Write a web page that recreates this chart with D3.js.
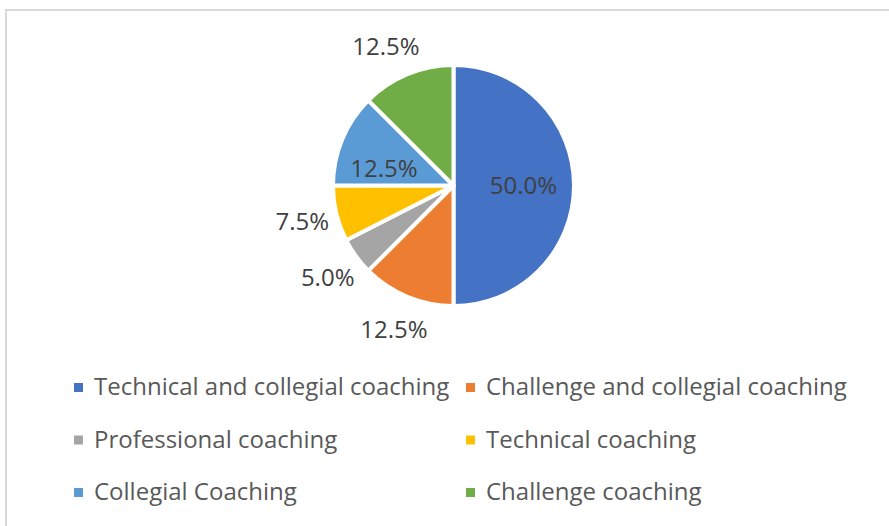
<!DOCTYPE html>
<html>
<head>
<meta charset="utf-8">
<script src="https://cdn.jsdelivr.net/npm/d3@7"></script>
<style>
    body { margin: 0; background: #fff; }
    svg { display: block; font-family: "Open Sans", sans-serif; }
</style>
</head>
<body>
<div id="chart"></div>
<script>
/*
    Chart data
*/
var categories = ["Technical and collegial coaching", "Challenge and collegial coaching",
    "Professional coaching", "Technical coaching", "Collegial Coaching", "Challenge coaching"];
var shares = [50.0, 12.5, 5.0, 7.5, 12.5, 12.5];
var colors = ["#4472C4", "#ED7D31", "#A5A5A5", "#FFC000", "#5B9BD5", "#70AD47"];
// which data labels Excel put inside the slice
var labelInside = [true, false, false, false, true, false];

/*
    Dimensions
*/
var W = 889, H = 526,
    cx = 453.5, cy = 185.5,
    radius = 120.5,
    fontSize = 24,
    legendRows = [395, 447.5, 500],
    legendCols = [74, 466];

var svg = d3.select("#chart").append("svg")
    .attr("width", W)
    .attr("height", H);

// chart frame (runs past the right and bottom edge of the picture)
svg.append("rect")
    .attr("x", 6).attr("y", 10)
    .attr("width", W + 20).attr("height", H + 20)
    .attr("fill", "none")
    .attr("stroke", "#d9d9d9")
    .attr("stroke-width", 2);

/*
    Pie
*/
var pie = d3.pie().sort(null).value(function (d) { return d; });
var arcs = pie(shares);

var arc = d3.arc().innerRadius(0).outerRadius(radius);
var inArc = d3.arc().innerRadius(radius * 0.58).outerRadius(radius * 0.58);
var outArc = d3.arc().innerRadius(radius + 35).outerRadius(radius + 35);

var g = svg.append("g").attr("transform", "translate(" + cx + "," + cy + ")");

g.selectAll("path")
    .data(arcs)
    .enter()
    .append("path")
    .attr("d", arc)
    .attr("fill", function (d, i) { return colors[i]; })
    .attr("stroke", "#fff")
    .attr("stroke-width", 4)
    .attr("stroke-linejoin", "round");

g.selectAll("text.lbl")
    .data(arcs)
    .enter()
    .append("text")
    .attr("class", "lbl")
    .attr("transform", function (d, i) {
        var p = labelInside[i] ? inArc.centroid(d) : outArc.centroid(d);
        if (i == 4) { p = [p[0] - 5, p[1] + 10]; }  // Excel best-fit nudge
        if (i == 5) { p = [p[0] - 8, p[1] + 5]; }
        return "translate(" + p[0] + "," + p[1] + ")";
    })
    .attr("dy", "0.36em")
    .attr("text-anchor", "middle")
    .attr("font-size", fontSize)
    .attr("fill", "#404040")
    .text(function (d) { return d3.format(".1f")(d.data) + "%"; });

/*
    Legend, two columns, three rows
*/
var legend = svg.append("g")
    .selectAll("g")
    .data(categories)
    .enter()
    .append("g")
    .attr("transform", function (d, i) {
        return "translate(" + legendCols[i % 2] + "," + legendRows[Math.floor(i / 2)] + ")";
    });

legend.append("rect")
    .attr("x", 0).attr("y", -12)
    .attr("width", 9).attr("height", 9)
    .attr("fill", function (d, i) { return colors[i]; });

legend.append("text")
    .attr("x", 20)
    .attr("font-size", fontSize)
    .attr("fill", "#595959")
    .text(function (d) { return d; });
</script>
</body>
</html>
